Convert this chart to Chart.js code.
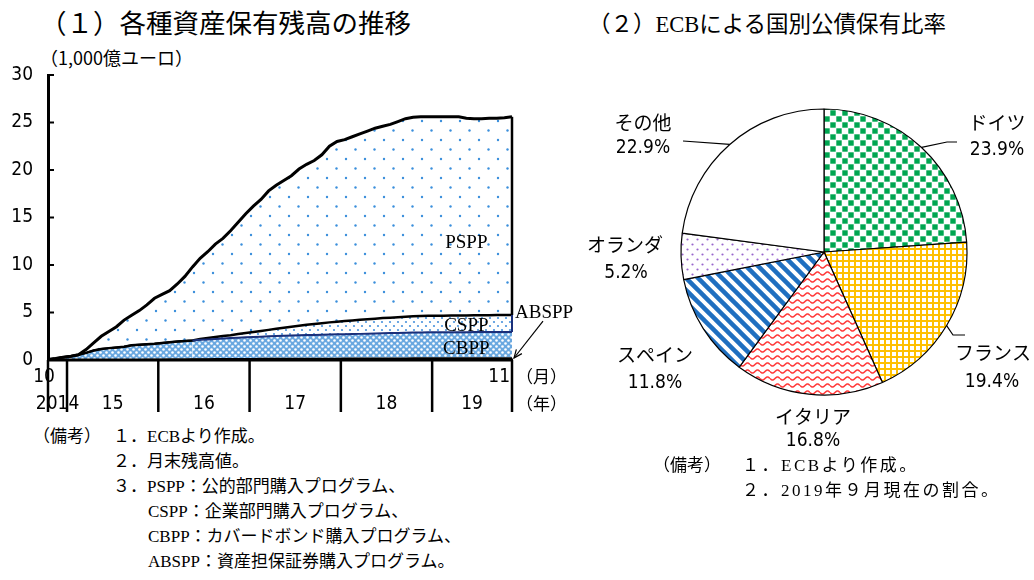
<!DOCTYPE html>
<html>
<head>
<meta charset="utf-8">
<script src="https://cdn.jsdelivr.net/npm/chart.js@4.4.1/dist/chart.umd.min.js"></script>
<style>
  body { margin: 0; width: 1034px; height: 580px; background: #fff; position: relative; overflow: hidden;
         font-family: "Noto Sans CJK JP", sans-serif; color: #000; }
  .abs { position: absolute; white-space: nowrap; line-height: 1; }
  .serif { font-family: "Liberation Serif", "Noto Sans CJK JP", serif; }
  .note { font-family: "Liberation Serif", "Noto Sans CJK JP", serif; font-size: 17px; }
  .note.wide { letter-spacing: 2.5px; }
  canvas { position: absolute; }
</style>
</head>
<body>

<div class="abs" style="left:40px; top:9px; font-size:26.5px;">（１）各種資産保有残高の推移</div>
<div class="abs" style="left:588px; top:11px; font-size:22.5px;">（２）<span class="serif">ECB</span>による国別公債保有比率</div>
<div class="abs" style="left:40px; top:48px; font-size:18px;">（1,000億ユーロ）</div>

<canvas id="areaChart" width="600" height="360" style="left:0; top:60px;"></canvas>
<canvas id="pieChart" width="474" height="440" style="left:560px; top:32px;"></canvas>

<div class="abs note" style="left:33px; top:428px;">（備考）</div>
<div class="abs note" style="left:113px; top:428px;">１．ECBより作成。</div>
<div class="abs note" style="left:113px; top:453px;">２．月末残高値。</div>
<div class="abs note" style="left:113px; top:478px;">３．PSPP：公的部門購入プログラム、</div>
<div class="abs note" style="left:148px; top:503px;">CSPP：企業部門購入プログラム、</div>
<div class="abs note" style="left:148px; top:528px;">CBPP：カバードボンド購入プログラム、</div>
<div class="abs note" style="left:148px; top:553px;">ABSPP：資産担保証券購入プログラム。</div>

<div class="abs note" style="left:653px; top:457px;">（備考）</div>
<div class="abs note wide" style="left:742px; top:457px;">１．ECBより作成。</div>
<div class="abs note wide" style="left:742px; top:482px;">２．2019年９月現在の割合。</div>

<script>
// holdings, 1,000 bn euro, month-end, 2014/10 .. 2019/11
const abspp = [
  0, 0, 0.01,                                                              // 2014
  0.02, 0.03, 0.04, 0.05, 0.06, 0.07, 0.08, 0.09, 0.10, 0.11, 0.12, 0.13,  // 2015
  0.14, 0.15, 0.16, 0.17, 0.18, 0.19, 0.19, 0.20, 0.20, 0.21, 0.21, 0.22,  // 2016
  0.22, 0.23, 0.23, 0.23, 0.24, 0.24, 0.24, 0.25, 0.25, 0.25, 0.25, 0.25,  // 2017
  0.26, 0.26, 0.26, 0.26, 0.27, 0.27, 0.27, 0.27, 0.27, 0.28, 0.28, 0.28,  // 2018
  0.28, 0.28, 0.28, 0.28, 0.28, 0.28, 0.28, 0.28, 0.28, 0.28, 0.28         // 2019
];
const cbpp = [
  0.05, 0.15, 0.29,
  0.38, 0.52, 0.71, 0.95, 1.09, 1.18, 1.24, 1.31, 1.45, 1.49, 1.54, 1.59,
  1.66, 1.73, 1.79, 1.83, 1.88, 1.93, 1.98, 2.02, 2.07, 2.10, 2.14, 2.18,
  2.21, 2.23, 2.26, 2.29, 2.31, 2.34, 2.36, 2.37, 2.39, 2.41, 2.43, 2.45,
  2.46, 2.47, 2.49, 2.51, 2.52, 2.54, 2.56, 2.58, 2.60, 2.61, 2.62, 2.63,
  2.64, 2.64, 2.65, 2.65, 2.65, 2.66, 2.66, 2.66, 2.67, 2.67, 2.67
];
const cspp = [
  0, 0, 0,
  0, 0, 0, 0, 0, 0, 0, 0, 0, 0, 0, 0,
  0, 0, 0, 0, 0, 0.10, 0.15, 0.20, 0.25, 0.30, 0.38, 0.45,
  0.52, 0.60, 0.68, 0.76, 0.85, 0.93, 1.00, 1.08, 1.15, 1.22, 1.28, 1.33,
  1.38, 1.43, 1.48, 1.52, 1.56, 1.60, 1.63, 1.66, 1.69, 1.72, 1.74, 1.75,
  1.75, 1.75, 1.76, 1.76, 1.76, 1.77, 1.77, 1.77, 1.78, 1.78, 1.78
];
const pspp = [
  0, 0, 0,
  0, 0, 0.35, 0.80, 1.35, 1.75, 2.18, 2.80, 3.15, 3.60, 4.14, 4.78,
  5.10, 5.42, 6.05, 6.80, 7.74, 8.48, 9.08, 9.78, 10.28, 10.99, 11.77, 12.55,
  13.25, 13.84, 14.63, 15.12, 15.50, 15.89, 16.50, 16.90, 17.21, 17.72, 18.54, 18.97,
  19.10, 19.34, 19.57, 19.81, 20.05, 20.19, 20.34, 20.59, 20.84, 20.94, 20.96, 20.94,
  20.93, 20.93, 20.91, 20.91, 20.76, 20.69, 20.69, 20.74, 20.72, 20.77, 20.87
];
const yearLabels = ['2014', '15', '16', '17', '18', '19'];
const yTicks = [0, 5, 10, 15, 20, 25, 30];

// ECB public sector holdings by country, %, 2019/9
const pieLabels = ['ドイツ', 'フランス', 'イタリア', 'スペイン', 'オランダ', 'その他'];
const pieShares = [23.9, 19.4, 16.8, 11.8, 5.2, 22.9];

// month labels from 2014/10 on
const months = [];
for (let i = 0; i < pspp.length; i++) {
  const t = 2014 * 12 + 9 + i;
  months.push(Math.floor(t / 12) + '/' + (t % 12 + 1));
}

const NUM_FONT = '"Liberation Sans Narrow", "DejaVu Sans Condensed", "Liberation Sans", sans-serif';
const JP_FONT = '"Noto Sans CJK JP", sans-serif';
const SERIF_FONT = '"Liberation Serif", serif';

function makePattern(w, h, draw) {
  const c = document.createElement('canvas');
  c.width = w; c.height = h;
  const g = c.getContext('2d');
  g.fillStyle = '#fff';
  g.fillRect(0, 0, w, h);
  draw(g, w, h);
  return g.createPattern(c, 'repeat');
}
function dot(g, x, y, r, color) {
  g.fillStyle = color;
  g.beginPath(); g.arc(x, y, r, 0, Math.PI * 2); g.fill();
}

const psppFill = makePattern(19, 19, g => {
  dot(g, 4, 4, 1.2, '#3b8fdc');
  dot(g, 13.5, 13.5, 1.2, '#3b8fdc');
});
const csppFill = makePattern(8, 8, g => {
  dot(g, 2, 2, 1.1, '#4a93dc');
  dot(g, 6, 6, 1.1, '#4a93dc');
});
const cbppFill = makePattern(6, 6, g => {
  g.fillStyle = '#6aa8e0';
  g.fillRect(0, 0, 6, 6);
  dot(g, 1.5, 1.5, 1.3, '#ffffff');
  dot(g, 4.5, 4.5, 1.3, '#ffffff');
});

const areaLabelsPlugin = {
  id: 'areaLabels',
  afterDraw(chart) {
    const { ctx, chartArea: a, scales: { x, y } } = chart;
    const y0 = y.getPixelForValue(0);
    const below = y0 + 52;
    ctx.save();
    ctx.strokeStyle = '#000';
    ctx.fillStyle = '#000';
    ctx.textBaseline = 'middle';

    // y ticks pointing inward, labels on the left
    ctx.lineWidth = 2;
    ctx.textAlign = 'right';
    ctx.font = '19px ' + NUM_FONT;
    yTicks.forEach(v => {
      const py = y.getPixelForValue(v);
      ctx.beginPath(); ctx.moveTo(a.left, py); ctx.lineTo(a.left + 6, py); ctx.stroke();
      ctx.fillText(String(v), a.left - 15, py);
    });

    // base line
    ctx.lineWidth = 3;
    ctx.beginPath(); ctx.moveTo(a.left - 1, y0); ctx.lineTo(a.right + 1, y0); ctx.stroke();

    // right edge of the stacked area
    const last = pspp.length - 1;
    const px = x.getPixelForValue(last);
    const top = y.getPixelForValue(abspp[last] + cbpp[last] + cspp[last] + pspp[last]);
    const mid = y.getPixelForValue(abspp[last] + cbpp[last] + cspp[last]);
    const low = y.getPixelForValue(abspp[last] + cbpp[last]);
    ctx.lineWidth = 2.5;
    ctx.beginPath(); ctx.moveTo(px, top); ctx.lineTo(px, mid); ctx.stroke();
    ctx.strokeStyle = '#1a2f7a';
    ctx.lineWidth = 2;
    ctx.beginPath(); ctx.moveTo(px, mid); ctx.lineTo(px, low); ctx.stroke();

    // year separators under the axis
    ctx.strokeStyle = '#000';
    ctx.lineWidth = 2.5;
    const seps = [x.getPixelForValue(0)];
    months.forEach((m, i) => {
      if (m.endsWith('/1') && i > 0) seps.push(x.getPixelForValue(i - 0.5));
    });
    seps.push(x.getPixelForValue(last));
    seps.forEach(sx => {
      ctx.beginPath(); ctx.moveTo(sx, y0); ctx.lineTo(sx, below); ctx.stroke();
    });

    ctx.textAlign = 'center';
    yearLabels.forEach((t, i) => {
      ctx.fillText(t, (seps[i] + seps[i + 1]) / 2, y0 + 44);
    });
    ctx.fillText(months[0].split('/')[1], seps[0] - 4, y0 + 17);
    ctx.textAlign = 'right';
    ctx.fillText(months[last].split('/')[1], px - 2, y0 + 17);

    ctx.textAlign = 'left';
    ctx.font = '17px ' + JP_FONT;
    ctx.fillText('（月）', px + 4, y0 + 17);
    ctx.fillText('（年）', px + 4, y0 + 44);

    // series names
    ctx.font = '19px ' + SERIF_FONT;
    ctx.textAlign = 'center';
    ctx.fillText('PSPP', x.getPixelForValue(55), y.getPixelForValue(12.3));
    ctx.fillText('CSPP', x.getPixelForValue(55), y.getPixelForValue(3.6));
    ctx.fillText('CBPP', x.getPixelForValue(55), y.getPixelForValue(1.15));
    ctx.textAlign = 'left';
    ctx.fillText('ABSPP', px + 3, y.getPixelForValue(4.9));

    // arrow to the ABSPP band
    const ax0 = px + 31, ay0 = y.getPixelForValue(4.1);
    const ax1 = px + 2, ay1 = y0 - 2;
    ctx.lineWidth = 1.2;
    ctx.beginPath(); ctx.moveTo(ax0, ay0); ctx.lineTo(ax1, ay1); ctx.stroke();
    const ang = Math.atan2(ay1 - ay0, ax1 - ax0);
    ctx.beginPath();
    ctx.moveTo(ax1 - 9 * Math.cos(ang - 0.4), ay1 - 9 * Math.sin(ang - 0.4));
    ctx.lineTo(ax1, ay1);
    ctx.lineTo(ax1 - 9 * Math.cos(ang + 0.4), ay1 - 9 * Math.sin(ang + 0.4));
    ctx.stroke();
    ctx.restore();
  }
};

new Chart(document.getElementById('areaChart'), {
  type: 'line',
  data: {
    labels: months,
    datasets: [
      { label: 'ABSPP', data: abspp, fill: 'origin', backgroundColor: '#000', borderWidth: 0 },
      { label: 'CBPP', data: cbpp, fill: '-1', backgroundColor: cbppFill, borderColor: '#1a2f7a', borderWidth: 2,
        segment: { borderColor: c => cspp[c.p1DataIndex] === 0 ? '#000' : '#1a2f7a' } },
      { label: 'CSPP', data: cspp, fill: '-1', backgroundColor: csppFill, borderColor: '#000', borderWidth: 2.5 },
      { label: 'PSPP', data: pspp, fill: '-1', backgroundColor: psppFill, borderColor: '#000', borderWidth: 3 }
    ]
  },
  options: {
    responsive: false,
    animation: false,
    events: [],
    elements: { point: { radius: 0 }, line: { tension: 0 } },
    layout: { padding: { top: 15, right: 88, bottom: 60, left: 0 } },
    scales: {
      x: { display: false },
      y: {
        stacked: true, min: 0, max: 30,
        afterFit: s => { s.width = 48; },
        ticks: { display: false, stepSize: 5 },
        grid: { drawOnChartArea: false, drawTicks: false },
        border: { color: '#000', width: 3 }
      }
    },
    plugins: {
      legend: { display: false },
      tooltip: { enabled: false },
      filler: { drawTime: 'beforeDatasetsDraw' }
    }
  },
  plugins: [areaLabelsPlugin]
});

// pie fills
const piePatterns = [
  makePattern(12, 12, g => {
    g.fillStyle = '#00a651';
    g.fillRect(0.3, 0.3, 5.4, 5.4);
    g.fillRect(6.3, 6.3, 5.4, 5.4);
  }),
  makePattern(6, 6, g => {
    g.fillStyle = '#ffc000';
    g.fillRect(0, 0, 6, 2);
    g.fillRect(0, 0, 2, 6);
  }),
  makePattern(10, 7, g => {
    g.strokeStyle = '#ff3c3c';
    g.lineWidth = 1.6;
    g.beginPath();
    for (let i = 0; i <= 10; i++) {
      const yy = 3.5 + 1.6 * Math.sin(i / 10 * Math.PI * 2);
      i === 0 ? g.moveTo(i, yy) : g.lineTo(i, yy);
    }
    g.stroke();
  }),
  makePattern(12, 12, g => {
    g.strokeStyle = '#1f6fc0';
    g.lineWidth = 4.5;
    [-12, 0, 12].forEach(k => {
      g.beginPath(); g.moveTo(k - 3, -3); g.lineTo(k + 15, 15); g.stroke();
    });
  }),
  makePattern(10, 10, g => {
    dot(g, 2.5, 2.5, 1.1, '#9966cc');
    dot(g, 7.5, 7.5, 1.1, '#9966cc');
  }),
  '#ffffff'
];

// label layout around the pie: offsets from the centre, leader bends
const pieLabelPos = [
  { name: [173, -129], pct: [173, -102], leader: [[123, -110], [133, -110]] },
  { name: [169, 101], pct: [168, 130], leader: [[129, 83], [141, 83]] },
  { name: [-11, 165], pct: [-11, 189], leader: null },
  { name: [-169, 103], pct: [-169, 131], leader: null },
  { name: [-199, -7], pct: [-198, 21], leader: null },
  { name: [-181, -129], pct: [-181, -104], leader: [[-141, -111]] }
];

const pieLabelPlugin = {
  id: 'pieLabels',
  afterDraw(chart) {
    const { ctx } = chart;
    const arcs = chart.getDatasetMeta(0).data;
    ctx.save();
    ctx.fillStyle = '#000';
    ctx.strokeStyle = '#000';
    ctx.lineWidth = 1.2;
    ctx.textAlign = 'center';
    ctx.textBaseline = 'middle';
    arcs.forEach((arc, i) => {
      const { x, y, startAngle, endAngle, outerRadius } = arc.getProps(['x', 'y', 'startAngle', 'endAngle', 'outerRadius'], true);
      const pos = pieLabelPos[i];
      if (pos.leader) {
        const m = (startAngle + endAngle) / 2;
        ctx.beginPath();
        ctx.moveTo(x + outerRadius * Math.cos(m), y + outerRadius * Math.sin(m));
        pos.leader.forEach(([dx, dy]) => ctx.lineTo(x + dx, y + dy));
        ctx.stroke();
      }
      ctx.font = '19px ' + JP_FONT;
      ctx.fillText(pieLabels[i], x + pos.name[0], y + pos.name[1]);
      ctx.font = '19px ' + NUM_FONT;
      ctx.fillText(pieShares[i].toFixed(1) + '%', x + pos.pct[0], y + pos.pct[1]);
    });
    ctx.restore();
  }
};

new Chart(document.getElementById('pieChart'), {
  type: 'pie',
  data: {
    labels: pieLabels,
    datasets: [{ data: pieShares, backgroundColor: piePatterns, borderColor: '#000', borderWidth: 1.2 }]
  },
  options: {
    responsive: false,
    animation: false,
    events: [],
    radius: 143,
    layout: { padding: { left: 54 } },
    plugins: { legend: { display: false }, tooltip: { enabled: false } }
  },
  plugins: [pieLabelPlugin]
});
</script>
</body>
</html>
